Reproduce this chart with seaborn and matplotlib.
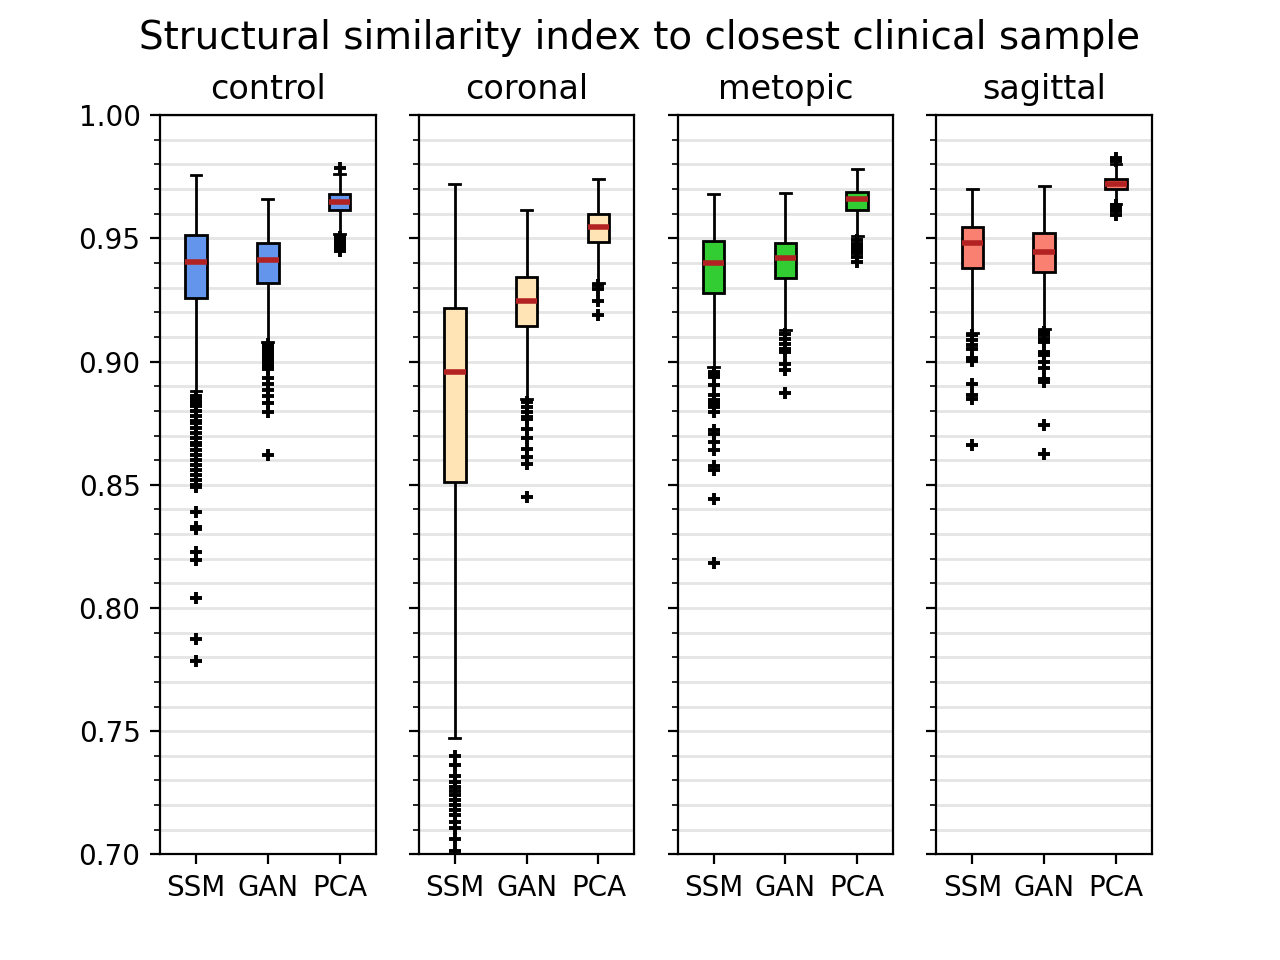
import pandas as pd
import matplotlib.pyplot as plt
import seaborn as sns
from matplotlib.ticker import MultipleLocator

categories = ["control", "coronal", "metopic", "sagittal"]
methods = ["SSM", "GAN", "PCA"]
box_colors = ["cornflowerblue", "moccasin", "limegreen", "salmon"]

# box summaries: rows = category, columns = SSM, GAN, PCA
whisker_low = [
    [0.888, 0.908, 0.9517],
    [0.7472, 0.885, 0.9319],
    [0.8977, 0.913, 0.9509],
    [0.9116, 0.9134, 0.9641],
]
q1 = [
    [0.9258, 0.9318, 0.9614],
    [0.851, 0.9145, 0.9484],
    [0.9279, 0.934, 0.9614],
    [0.9378, 0.9364, 0.970],
]
median = [
    [0.9406, 0.9413, 0.9648],
    [0.8958, 0.9245, 0.9545],
    [0.9399, 0.9421, 0.9658],
    [0.9483, 0.9445, 0.972],
]
q3 = [
    [0.9513, 0.9482, 0.9681],
    [0.9218, 0.9345, 0.9598],
    [0.9491, 0.9483, 0.9689],
    [0.9548, 0.952, 0.9742],
]
whisker_high = [
    [0.9758, 0.966, 0.9763],
    [0.972, 0.9614, 0.974],
    [0.9681, 0.9683, 0.9782],
    [0.9701, 0.9713, 0.9801],
]

# outliers per category, one list per method
outliers_control = [
    [0.886, 0.885, 0.884, 0.883, 0.882, 0.880, 0.878, 0.876, 0.875, 0.873,
     0.871, 0.869, 0.867, 0.866, 0.864, 0.862, 0.860, 0.858, 0.856, 0.854,
     0.852, 0.850, 0.849, 0.8388, 0.833, 0.832, 0.8227, 0.8193, 0.8042,
     0.7874, 0.7783],
    [0.907, 0.906, 0.905, 0.904, 0.903, 0.902, 0.901, 0.900, 0.899, 0.898,
     0.897, 0.8935, 0.891, 0.8885, 0.886, 0.883, 0.8795, 0.862],
    [0.9505, 0.9495, 0.949, 0.948, 0.947, 0.946, 0.945, 0.9785],
]
outliers_coronal = [
    [0.7398, 0.7361, 0.7317, 0.7292, 0.7272, 0.7256, 0.724, 0.7219, 0.7199,
     0.7179, 0.7158, 0.713, 0.7106, 0.7061, 0.7012],
    [0.8836, 0.8816, 0.8796, 0.8775, 0.8769, 0.8728, 0.8688, 0.8647, 0.8613,
     0.8586, 0.845],
    [0.931, 0.9296, 0.9246, 0.9188],
]
outliers_metopic = [
    [0.8958, 0.8945, 0.8938, 0.8904, 0.8863, 0.8843, 0.8836, 0.8823, 0.8816,
     0.8796, 0.8721, 0.8708, 0.8674, 0.864, 0.8575, 0.8559, 0.8444, 0.8184],
    [0.9114, 0.9093, 0.9073, 0.9053, 0.9039, 0.8992, 0.8965, 0.8873],
    [0.9493, 0.9479, 0.9465, 0.9452, 0.9439, 0.9425, 0.9404],
]
outliers_sagittal = [
    [0.9107, 0.9087, 0.9066, 0.9053, 0.9016, 0.9003, 0.8911, 0.8863, 0.885,
     0.8663],
    [0.912, 0.9107, 0.9093, 0.908, 0.9039, 0.9026, 0.8999, 0.8972, 0.8931,
     0.8917, 0.8742, 0.8627],
    [0.9635, 0.9622, 0.961, 0.9594, 0.9813, 0.9828],
]
outliers = [outliers_control, outliers_coronal, outliers_metopic, outliers_sagittal]

fig, axes = plt.subplots(1, 4, figsize=(6.4, 4.8), dpi=200, sharey=True)

for i, (ax, cat) in enumerate(zip(axes, categories)):
    # box rows: whisker ends once, quartiles/median repeated so the percentiles land on them
    rows = []
    for j, m in enumerate(methods):
        vals = ([whisker_low[i][j]] + [q1[i][j]] * 3 + [median[i][j]] * 3
                + [q3[i][j]] * 3 + [whisker_high[i][j]])
        rows += [{"method": m, "ssim": v} for v in vals]
    box_df = pd.DataFrame(rows)
    out_df = pd.DataFrame([{"method": m, "ssim": v}
                           for j, m in enumerate(methods) for v in outliers[i][j]])

    sns.boxplot(data=box_df, x="method", y="ssim", order=methods, color=box_colors[i],
                saturation=1, width=0.3, linecolor="black", linewidth=1,
                whis=(0, 100), showfliers=False,
                medianprops=dict(color="firebrick", linewidth=2), ax=ax)
    sns.stripplot(data=out_df, x="method", y="ssim", order=methods, jitter=False,
                  marker="+", color="black", size=4, linewidth=1.4, ax=ax)

    ax.set_title(cat, fontsize=12)
    ax.set_xlabel("")
    ax.set_ylabel("")
    ax.grid(True, axis="y", which="both", color="#e5e5e5", linewidth=1)
    ax.set_axisbelow(True)

axes[0].set_ylim(0.70, 1.00)
axes[0].yaxis.set_major_locator(MultipleLocator(0.05))
axes[0].yaxis.set_minor_locator(MultipleLocator(0.01))

fig.suptitle("Structural similarity index to closest clinical sample", fontsize=14)
plt.savefig("out.png", dpi=200)
